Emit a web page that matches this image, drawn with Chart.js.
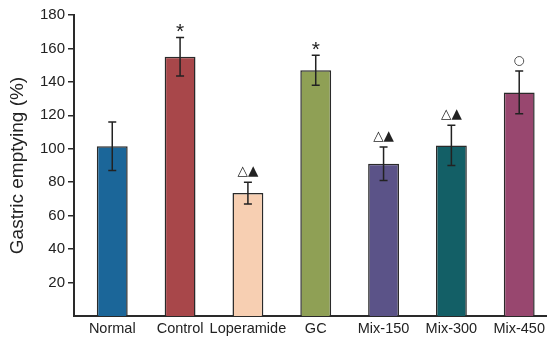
<!DOCTYPE html>
<html>
<head>
<meta charset="utf-8">
<script src="https://cdn.jsdelivr.net/npm/chart.js@4.4.1/dist/chart.umd.min.js"></script>
<style>
  html, body { margin: 0; padding: 0; background: #fff; }
  #wrap { width: 549px; height: 341px; }
</style>
</head>
<body>
<div id="wrap"><canvas id="myChart"></canvas></div>
<script>
const groups = ['Normal', 'Control', 'Loperamide', 'GC', 'Mix-150', 'Mix-300', 'Mix-450'];
const means = [101.5, 155, 73.5, 147, 91, 102, 133.7];
const errors = [14.5, 11.5, 6.5, 9, 10, 12, 12.8];
const marks = ['', '*', '△▲', '*', '△▲', '△▲', '○'];
const yTicks = [20, 40, 60, 80, 100, 120, 140, 160, 180];
const barColors = ['#1b6699', '#a8474a', '#f7cfb2', '#8fa055', '#5b5388', '#135f66', '#98476f'];

const chart = document.getElementById('myChart');

// error bars and significance marks drawn from the data via the scales
const errorBarPlugin = {
  id: 'errorBars',
  afterDatasetsDraw: (c) => {
    const {ctx, scales: {x, y}} = c;
    ctx.save();
    ctx.strokeStyle = '#222';
    ctx.lineWidth = 1.5;
    ctx.fillStyle = '#222';
    ctx.textAlign = 'center';
    ctx.textBaseline = 'middle';
    means.forEach((m, i) => {
      const px = x.getPixelForValue(i);
      const top = y.getPixelForValue(m + errors[i]);
      const bot = y.getPixelForValue(m - errors[i]);
      ctx.beginPath();
      ctx.moveTo(px, top); ctx.lineTo(px, bot);
      ctx.moveTo(px - 4, top); ctx.lineTo(px + 4, top);
      ctx.moveTo(px - 4, bot); ctx.lineTo(px + 4, bot);
      ctx.stroke();
      const mk = marks[i];
      if (mk === '*') {
        ctx.font = '21px "Liberation Sans", Arial, sans-serif';
        ctx.fillText(mk, px, top - 5);
      } else if (mk === '○') {
        ctx.lineWidth = 1;
        ctx.strokeStyle = '#555';
        ctx.beginPath();
        ctx.arc(px, top - 10, 4.5, 0, Math.PI * 2);
        ctx.stroke();
        ctx.strokeStyle = '#222';
        ctx.lineWidth = 1.5;
      } else if (mk) {
        ctx.font = '13.5px "DejaVu Sans", sans-serif';
        ctx.fillText(mk, px, top - 11);
      }
    });
    ctx.restore();
  }
};

const config = {
  type: 'bar',
  data: {
    datasets: [{
      data: means.map((v, i) => ({x: i, y: v})),
      backgroundColor: barColors,
      borderColor: '#2a2a2a',
      borderWidth: 1.5,
      barPercentage: 0.455,
      categoryPercentage: 1
    }]
  },
  plugins: [errorBarPlugin],
  options: {
    responsive: true,
    maintainAspectRatio: false,
    animation: false,
    layout: { padding: { top: 15, right: 0, left: 0, bottom: 0 } },
    plugins: {
      legend: { display: false },
      tooltip: { enabled: false }
    },
    scales: {
      x: {
        type: 'linear',
        offset: false,
        min: -0.564,
        max: 6.396,
        afterBuildTicks: (s) => { s.ticks = groups.map((g, i) => ({value: i})); },
        afterFit: (s) => { s.height = 25; },
        ticks: {
          autoSkip: false,
          maxRotation: 0,
          padding: 4,
          color: '#222',
          font: { family: '"Liberation Sans", Arial, sans-serif', size: 14.5 },
          callback: (v) => groups[v]
        },
        grid: { drawOnChartArea: false, drawTicks: false },
        border: { color: '#2a2a2a', width: 2 }
      },
      y: {
        min: 0,
        max: 180,
        afterBuildTicks: (s) => { s.ticks = yTicks.map(v => ({value: v})); },
        afterFit: (s) => { s.width = 74; },
        ticks: {
          padding: 3,
          color: '#222',
          font: { family: '"Liberation Sans", Arial, sans-serif', size: 15 }
        },
        grid: { drawOnChartArea: false, drawTicks: true, tickLength: 6, color: '#2a2a2a', lineWidth: 1.5 },
        border: { color: '#2a2a2a', width: 2 },
        title: {
          display: true,
          text: 'Gastric emptying (%)',
          color: '#222',
          font: { family: '"Liberation Sans", Arial, sans-serif', size: 19 },
          padding: { top: 6, bottom: 0 }
        }
      }
    }
  }
};

let myChart = new Chart(chart, config);
</script>
</body>
</html>
